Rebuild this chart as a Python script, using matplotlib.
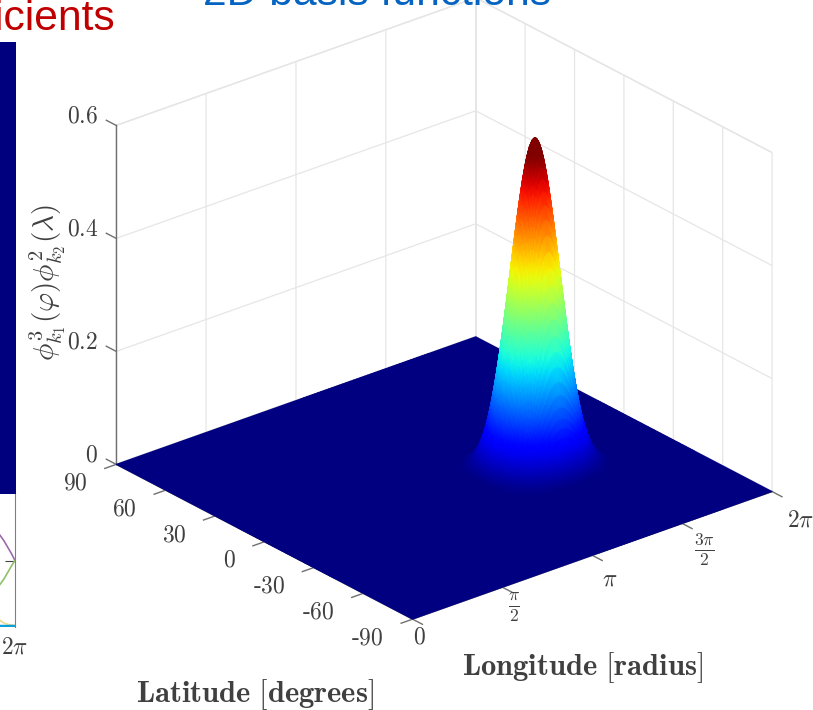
import numpy as np
import matplotlib
matplotlib.use('Agg')
import matplotlib.pyplot as plt
from mpl_toolkits.mplot3d import proj3d

plt.rcParams['mathtext.fontset'] = 'cm'
plt.rcParams['font.family'] = 'serif'

# half of the bump profile, centre outwards
half_profile = [1.000, 0.996, 0.986, 0.969, 0.946, 0.918, 0.885, 0.848, 0.808, 0.765,
                0.719, 0.671, 0.622, 0.572, 0.522, 0.473, 0.424, 0.377, 0.332, 0.289,
                0.250, 0.214, 0.182, 0.154, 0.128, 0.105, 0.086, 0.069, 0.054, 0.042,
                0.031, 0.023, 0.016, 0.011, 0.007, 0.004, 0.002, 0.001, 0.000, 0.000, 0.000]
peak_height = 0.58
lon_peak = 4.34
lat_peak = -13.5
lon_halfwidth = 1.1
lat_halfwidth = 29.0

lon_ticks = [0, np.pi / 2, np.pi, 3 * np.pi / 2, 2 * np.pi]
lon_labels = ['$0$', r'$\frac{\pi}{2}$', r'$\pi$', r'$\frac{3\pi}{2}$', r'$2\pi$']
lat_ticks = [-90, -60, -30, 0, 30, 60, 90]
lat_labels = [r'$\text{-}90$', r'$\text{-}60$', r'$\text{-}30$', '$0$', '$30$', '$60$', '$90$']
z_ticks = [0, 0.2, 0.4, 0.6]
z_labels = ['$0$', '$0.2$', '$0.4$', '$0.6$']

# neighbour panel, only its right edge is on the page
side_lon = [6.05, 6.11, 6.17, 6.23, 6.283]
side_purple = [0.69, 0.65, 0.60, 0.55, 0.50]
side_green = [0.32, 0.36, 0.41, 0.46, 0.50]
side_yellow = [0.05, 0.03, 0.02, 0.015, 0.01]
side_cyan = [0.01, 0.01, 0.01, 0.01, 0.01]

GREY = '#404040'
TICK = '#707070'
W, H = 813, 710

fig = plt.figure(figsize=(W / 100, H / 100), dpi=100)

# 3d box
ax = fig.add_axes([0.0345, 0.052, 1.0, 1.0], projection='3d', proj_type='ortho')
ax.patch.set_alpha(0)
ax.view_init(elev=25.5, azim=-129.5)
ax.set_box_aspect((1, 1, 0.806), zoom=1.037)
ax.set_xlim(0, 2 * np.pi, view_margin=0)
ax.set_ylim(-90, 90, view_margin=0)
ax.set_zlim(0, 0.6, view_margin=0)
ax.set_xticks(lon_ticks)
ax.set_yticks(lat_ticks)
ax.set_zticks(z_ticks)
for axis in (ax.xaxis, ax.yaxis, ax.zaxis):
    axis.set_major_formatter(plt.NullFormatter())
    for t in axis.get_major_ticks():
        t.label1.set_visible(False)
        t.label2.set_visible(False)
    axis.set_pane_color((1, 1, 1, 1))
    axis.pane.set_edgecolor('#e4e4e4')
    axis.line.set_color(TICK)
    axis.line.set_linewidth(1.0)
    axis._axinfo['grid']['color'] = '#e6e6e6'
    axis._axinfo['grid']['linewidth'] = 0.9
    axis._axinfo['tick']['inward_factor'] = 0.0
    axis._axinfo['tick']['outward_factor'] = 0.0

# ticks and their labels, set out from the box edges as in matlab
for z, label in zip(z_ticks, z_labels):
    ax.plot([0, 0], [90, 96], [z, z], color=TICK, lw=1.0)
    ax.text(0, 101, z, label, fontsize=17, color=GREY, ha='right', va='center')
for la, label in zip(lat_ticks, lat_labels):
    ax.plot([0, -0.2], [la, la], [0, 0], color=TICK, lw=1.0)
    ax.text(-0.5, la, -0.015, label, fontsize=17, color=GREY, ha='right', va='center')
for lo, label in zip(lon_ticks, lon_labels):
    ax.plot([lo, lo], [-90, -96], [0, 0], color=TICK, lw=1.0)
    size = 18 if 'frac' in label else 17
    ax.text(lo, -94 - 2.07 * lo, -0.025, label, fontsize=size, color=GREY, ha='center', va='center')

# surface: far corner first, drawn through the box's projection so colours blend smoothly
profile = np.array(half_profile[:0:-1] + half_profile)
offset = np.linspace(-1, 1, len(profile))
lon = np.r_[0, lon_peak + lon_halfwidth * offset, 2 * np.pi][::-1]
lat = np.r_[-90, lat_peak + lat_halfwidth * offset, 90][::-1]
lon_p = np.r_[0, profile, 0]
lat_p = np.r_[0, profile, 0]
LON, LAT = np.meshgrid(lon, lat)
Z = peak_height * np.outer(lat_p, lon_p)

fig.canvas.draw()
px, py, _ = proj3d.proj_transform(LON.ravel(), LAT.ravel(), Z.ravel(), ax.get_proj())
pts = ax.transData.transform(np.c_[px, py])
PX = pts[:, 0].reshape(LON.shape)
PY = pts[:, 1].reshape(LON.shape)

over = fig.add_axes([0, 0, 1, 1])
over.patch.set_alpha(0)
over.set_axis_off()
over.pcolormesh(PX, PY, Z, cmap='jet', vmin=0, vmax=0.55, shading='gouraud')
over.set_xlim(0, W)
over.set_ylim(0, H)

fig.text(582 / W, 1 - 668 / H, r'$\mathbf{Longitude\ [radius]}$', fontsize=22, color=GREY,
         ha='center', va='center')
fig.text(255 / W, 1 - 695 / H, r'$\mathbf{Latitude\ [degrees]}$', fontsize=22, color=GREY,
         ha='center', va='center')
fig.text(48 / W, 1 - 283 / H, r'$\phi^{3}_{k_1}(\varphi)\phi^{2}_{k_2}(\lambda)$', fontsize=21,
         color=GREY, rotation=90, ha='center', va='center')

# cut off neighbours on the left
heat = fig.add_axes([(15 - 405) / W, 1 - 494 / H, 405 / W, (494 - 42) / H])
heat.imshow(np.zeros((2, 2)), cmap='jet', vmin=0, vmax=1, aspect='auto', extent=[0, 2 * np.pi, 0, 1])
heat.set_xticks([])
heat.set_yticks([])
for s in heat.spines.values():
    s.set_visible(False)

lines = fig.add_axes([(15 - 405) / W, 1 - 627 / H, 405 / W, (627 - 494) / H])
lines.plot(side_lon, side_purple, color='#9a6bb0', lw=1.2)
lines.plot(side_lon, side_green, color='#8fc06a', lw=1.2)
lines.plot(side_lon, side_yellow, color='#f0d890', lw=1.2)
lines.plot(side_lon, side_cyan, color='#10a0d8', lw=2.5)
lines.set_xlim(0, 2 * np.pi)
lines.set_ylim(0, 1)
lines.set_xticks([2 * np.pi])
lines.set_xticklabels([r'$2\pi$'], fontsize=17, color=GREY)
lines.set_yticks([0.5])
lines.yaxis.tick_right()
lines.tick_params(axis='y', direction='in', length=7, color=GREY, labelright=False)
lines.tick_params(axis='x', length=0, pad=6)
lines.spines['right'].set_color('#808080')
lines.spines['top'].set_visible(False)
lines.spines['left'].set_visible(False)
lines.spines['bottom'].set_visible(False)

# slide titles, cut by the crop
fig.text(115 / W, 1 - 30 / H, 'Coefficients', fontsize=30.7, family='Liberation Sans', color='#c00000',
         ha='right', va='baseline')
fig.text(377 / W, 1 - 5 / H, '2D basis functions', fontsize=30.7, family='Liberation Sans', color='#0563c1',
         ha='center', va='baseline')

fig.savefig('out.png', dpi=100)
